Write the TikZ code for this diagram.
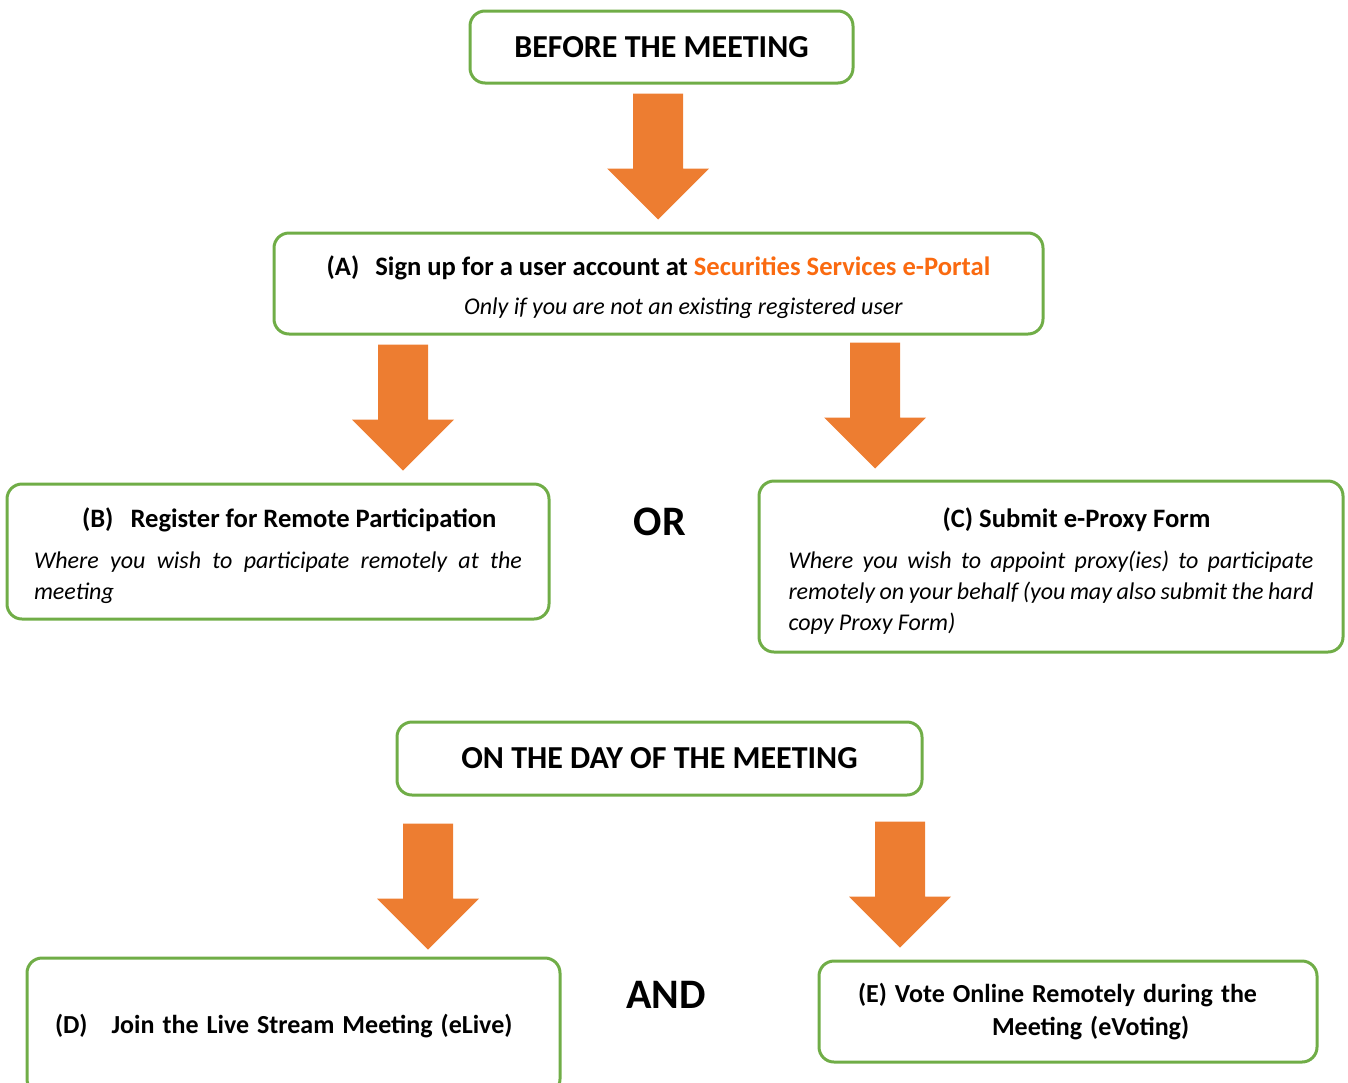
\documentclass[tikz,border=0pt]{standalone}
\usepackage{fontspec}
\setmainfont{Carlito}
\usetikzlibrary{calc}

\definecolor{boxgreen}{RGB}{112,173,71}
\definecolor{arroworange}{RGB}{237,125,49}
\definecolor{portalorange}{RGB}{250,106,16}

% wide down arrow between two points
\newcommand{\blockdown}[2]{%
  \fill[arroworange] let \p1=(#1), \p2=(#2) in
    (\x1-12.5pt,\y1) -- (\x1+12.5pt,\y1) -- (\x1+12.5pt,\y2+25.5pt) -- (\x1+25.5pt,\y2+25.5pt)
    -- (\x1,\y2) -- (\x1-25.5pt,\y2+25.5pt) -- (\x1-12.5pt,\y2+25.5pt) -- cycle;}
\newcommand{\boldline}[2][13.3]{{\fontsize{#1}{15.5}\selectfont\bfseries #2}}

\begin{document}
\begin{tikzpicture}[x=0.5pt,y=-0.5pt,
  stepbox/.style={draw=boxgreen,line width=1.5pt,rounded corners=7.5pt},
  headtext/.style={font=\fontsize{16}{19}\selectfont\bfseries},
  bigword/.style={font=\fontsize{21}{24}\selectfont\bfseries},
  bodytext/.style={font=\fontsize{12}{15.5}\selectfont}]
    \useasboundingbox (0,0) rectangle (1348,1082);
    \clip (0,0) rectangle (1348,1082);
    \coordinate (colA) at (658,0);
    \coordinate (colB) at (403,0);
    \coordinate (colC) at (875,0);
    \coordinate (colD) at (428,0);
    \coordinate (colE) at (900,0);

    \node [stepbox, headtext, minimum width=191.5pt, minimum height=36pt] (before) at (661.5,47) {BEFORE THE MEETING};
    \node [stepbox, bodytext, minimum width=384.5pt, minimum height=50.5pt, align=center] (A) at (658.5,283.5)
        {\rule{0pt}{14pt}\boldline{(A)\hspace{8pt}Sign up for a user account at \textcolor{portalorange}{Securities Services e-Portal}}\\[4pt]
         \hspace*{25pt}\textit{Only if you are not an existing registered user}};
    \node [stepbox, bodytext, minimum width=271pt, minimum height=67.5pt, text width=244pt, inner xsep=13.5pt, align=justify] (B) at (278,551.5)
        {\rule{0pt}{14pt}\hspace*{24pt}\boldline{(B)\hspace{8.5pt}Register for Remote Participation}\\[5pt]
         \textit{Where you wish to participate remotely at the\linebreak meeting}};
    \node [bigword] (or) at (660,522) {OR};
    \node [stepbox, bodytext, minimum width=292pt, minimum height=85.5pt, text width=262.5pt, inner xsep=14.75pt, align=justify] (C) at (1051,566.5)
        {\rule{0pt}{14pt}\hspace*{77pt}\boldline{(C) Submit e-Proxy Form}\\[5pt]
         \textit{Where you wish to appoint proxy(ies) to participate\linebreak remotely on your behalf (you may also submit the hard\linebreak copy Proxy Form)}};

    \node [stepbox, headtext, minimum width=262.5pt, minimum height=36.5pt] (day) at (659.5,758.5) {ON THE DAY OF THE MEETING};
    \node [stepbox, bodytext, minimum width=266.5pt, minimum height=68pt, text width=238.5pt, inner xsep=14pt, align=left] (D) at (293.5,1026)
        {\boldline[13]{(D)\hspace{12pt}Join the Live Stream Meeting (eLive)}};
    \node [bigword] (and) at (666,995) {AND};
    \node [stepbox, bodytext, minimum width=249pt, minimum height=50.5pt, text width=210pt, inner xsep=19.5pt, align=left] (E) at (1068,1011.5)
        {\boldline[13]{(E) Vote Online Remotely during the}\\[1pt]
         \hspace*{67pt}\boldline[13]{Meeting (eVoting)}};

    \blockdown{$(before.south -| colA)+(0,9)$}{$(A.north -| colA)+(0,-12)$}
    \blockdown{$(A.south -| colB)+(0,9)$}{$(B.north -| colB)+(0,-12)$}
    \blockdown{$(A.south -| colC)+(0,7)$}{$(C.north -| colC)+(0,-11)$}
    \blockdown{$(day.south -| colD)+(0,27)$}{$(D.north -| colD)+(0,-7)$}
    \blockdown{$(day.south -| colE)+(0,25)$}{$(E.north -| colE)+(0,-12)$}
\end{tikzpicture}
\end{document}
